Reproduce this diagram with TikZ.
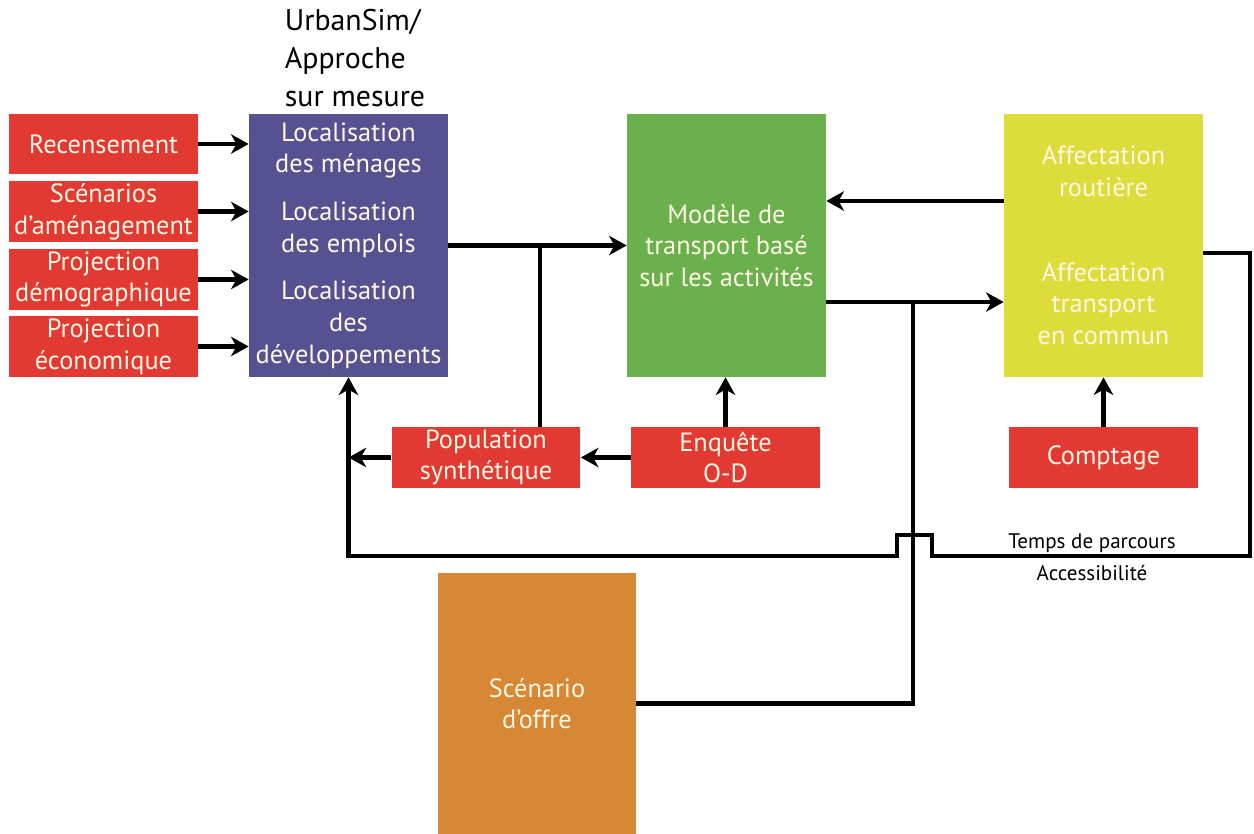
\documentclass[tikz,border=0pt]{standalone}
\usepackage{fontspec}
\setmainfont{PT Sans}
\usetikzlibrary{arrows.meta}

\definecolor{inputRed}{RGB}{226,57,50}
\definecolor{urbanPurple}{RGB}{86,82,145}
\definecolor{modelGreen}{RGB}{106,176,76}
\definecolor{assignYellow}{RGB}{222,220,58}
\definecolor{offerOrange}{RGB}{214,136,52}
\definecolor{boxText}{RGB}{255,247,228}

\begin{document}
\begin{tikzpicture}[x=0.02cm,y=-0.02cm]

  \tikzstyle{box} = [rectangle, inner sep=0pt, align=center, text=boxText, font=\fontsize{15}{18}\selectfont];
  \tikzstyle{inputBox} = [box, fill=inputRed, minimum width=3.78cm, minimum height=1.22cm];
  \tikzstyle{modelBox} = [box, minimum width=3.98cm, minimum height=5.26cm];
  \tikzstyle{link} = [line width=2.6pt];
  \tikzstyle{flow} = [link, -{Stealth[length=10pt,width=11pt,inset=3pt]}];

  \useasboundingbox (0,0) rectangle (1254,834);

  % inputs on the left
  \node[inputBox] (rec) at (103.5,144) {Recensement};
  \node[inputBox] (scen) at (103.5,211.5) {Scénarios\\d’aménagement};
  \node[inputBox] (demo) at (103.5,279.5) {Projection\\démographique};
  \node[inputBox] (eco) at (103.5,346.5) {Projection\\économique};

  % main models
  \node[align=left, font=\fontsize{17}{21.5}\selectfont] (title) at (355,58) {UrbanSim/\\Approche\\sur mesure};
  \node[modelBox, fill=urbanPurple] (loc) at (348.5,245.5)
    {Localisation\\des ménages\\[0.32cm]Localisation\\des emplois\\[0.32cm]Localisation\\des\\développements};
  \node[modelBox, fill=modelGreen] (mod) at (726.5,245.5)
    {Modèle de\\transport basé\\sur les activités};
  \node[modelBox, fill=assignYellow] (aff) at (1103.5,245.5)
    {Affectation\\routière\\[1.06cm]Affectation\\transport\\en commun};

  % lower row
  \node[inputBox] (pop) at (486,457.5) {Population\\synthétique};
  \node[inputBox] (enq) at (725.5,457.5) {Enquête\\O-D};
  \node[inputBox] (comp) at (1103.5,457.5) {Comptage};
  \node[box, fill=offerOrange, minimum width=3.96cm, minimum height=5.22cm] (offre) at (537,703.5) {Scénario\\d’offre};

  \node[font=\fontsize{12}{15}\selectfont] (tps) at (1092,543) {Temps de parcours};
  \node[font=\fontsize{12}{15}\selectfont] (acc) at (1092,573) {Accessibilité};

  \foreach \src in {rec,scen,demo,eco}
    \draw[flow] (\src.east) -- (\src.east -| loc.west);

  \draw[flow] (loc.east) -- (mod.west);
  \coordinate (split) at (540,245.5);
  \draw[link] (split) -- (split |- pop.north);

  \draw[flow] (aff.west |- 0,201) -- (mod.east |- 0,201);
  \coordinate (tap) at (913,302);
  \draw[flow] (mod.east |- tap) -- (aff.west |- tap);
  \draw[link] (tap) |- (offre.east);

  \draw[flow] (enq.north) -- (enq.north |- mod.south);
  \draw[flow] (comp.north) -- (aff.south);
  \draw[flow] (enq.west) -- (pop.east);
  \draw[flow] (pop.west) -- (pop.west -| loc.south);

  % feedback loop with a hop over the vertical line
  \coordinate (back) at (1250,556);
  \draw[flow] (aff.east |- 0,253) -| (back) -- (932,556) -- (932,535) -- (897,535) -- (897,556) -| (loc.south);

\end{tikzpicture}
\end{document}
